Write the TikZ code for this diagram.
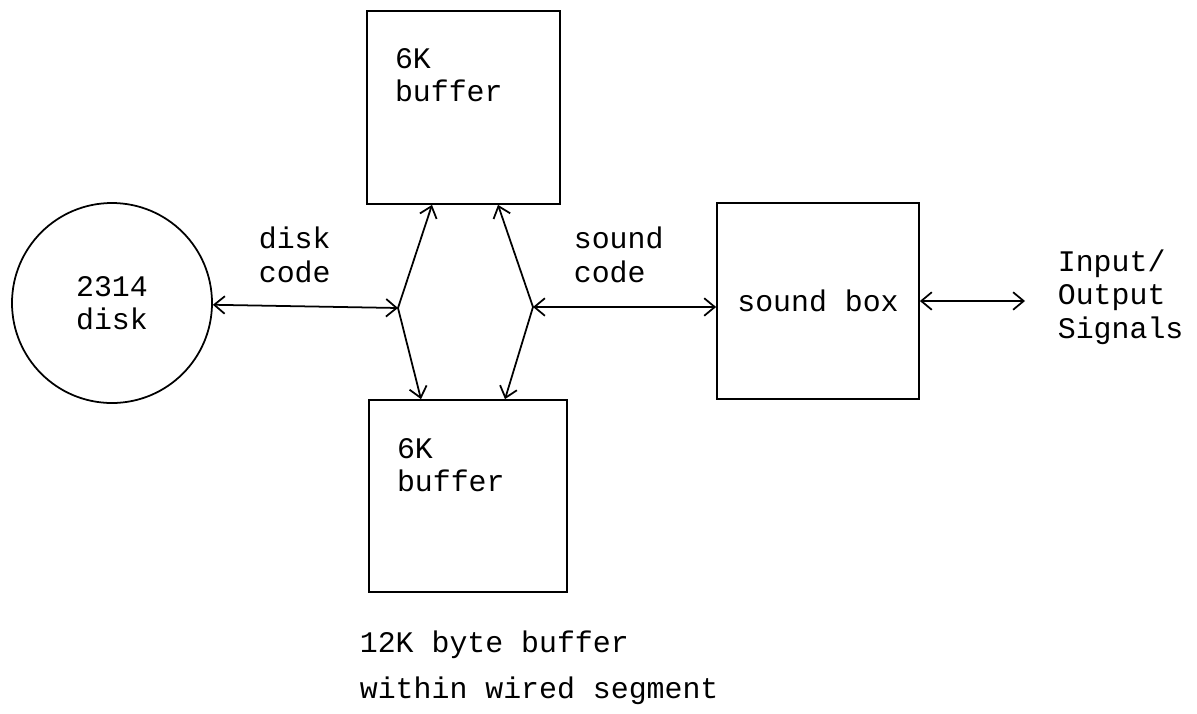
\documentclass[tikz,border=0pt]{standalone}
\usepackage{fontspec}
\newfontfamily\typer{Liberation Mono}
\usetikzlibrary{arrows.meta, positioning}

\begin{document}
\begin{tikzpicture}[
        font=\typer\fontsize{17}{18.8}\selectfont,
        line width=1pt,
        buf/.style={draw, minimum width=3.86cm, minimum height=3.86cm, inner sep=0pt},
        lbl/.style={align=left, inner sep=0pt},
        >={Straight Barb[length=6pt, width=10pt]}
      ]
        \useasboundingbox (0,0) rectangle (23.94,-14.26);

        % disk and buffers
        \node[circle, draw, minimum size=4cm, align=center, inner sep=0pt] (disk) at (2.24,-6.06) {2314\\disk};
        \node[buf] (top) at (9.27,-2.15) {};
        \node[buf, minimum width=3.96cm, minimum height=3.84cm] (bot) at (9.36,-9.92) {};
        \node[buf, minimum width=4.04cm, minimum height=3.92cm] (snd) at (16.36,-6.02) {sound box};

        \node[lbl, anchor=base west] (toplbl) at ([xshift=0.56cm, yshift=-1.82cm]top.north west) {6K\\buffer};
        \node[lbl, anchor=base west] (botlbl) at ([xshift=0.56cm, yshift=-1.84cm]bot.north west) {6K\\buffer};

        % junctions
        \coordinate (jl) at (7.96,-6.16);
        \coordinate (jr) at (10.66,-6.14);
        \coordinate (io) at (20.5,-6.02);

        \draw[<->] (disk) -- (jl);
        \draw[->] (jl) -- ([xshift=-0.63cm]top.south);
        \draw[->] (jl) -- ([xshift=-0.94cm]bot.north);
        \draw[->] (jr) -- ([xshift=0.69cm]top.south);
        \draw[->] (jr) -- ([xshift=0.74cm]bot.north);
        \draw[<->] (jr) -- (jr -| snd.west);
        \draw[<->] (snd.east) -- (io);

        % labels
        \node[lbl, anchor=base west] (dcode) at (5.16,-5.64) {disk\\code};
        \node[lbl, anchor=base west] (scode) at (11.46,-5.64) {sound\\code};
        \node[lbl, anchor=base west] (iolbl) at (21.14,-6.76) {Input/\\Output\\Signals};
        \node[lbl, anchor=base west] (note) at (7.18,-13.96) {12K byte buffer\\[0.24cm]within wired segment};
    \end{tikzpicture}
\end{document}
